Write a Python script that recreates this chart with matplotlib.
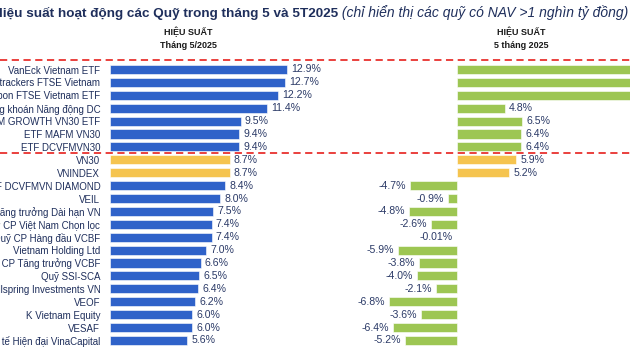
import matplotlib
matplotlib.use("Agg")
import matplotlib.pyplot as plt
import matplotlib.transforms as mtransforms
import numpy as np

plt.rcParams["font.family"] = ["Liberation Sans", "DejaVu Sans"]

# fund names (top to bottom)
funds = [
    "VanEck Vietnam ETF", "Xtrackers FTSE Vietnam", "Fubon FTSE Vietnam ETF",
    "Quỹ Đầu tư Chứng khoán Năng động DC", "KIM GROWTH VN30 ETF", "ETF MAFM VN30",
    "ETF DCVFMVN30", "VN30", "VNINDEX", "Quỹ ETF DCVFMVN DIAMOND", "VEIL",
    "Quỹ Đầu tư Tăng trưởng Dài hạn VN", "Quỹ Đầu tư CP Việt Nam Chọn lọc",
    "Quỹ CP Hàng đầu VCBF", "Vietnam Holding Ltd", "Quỹ CP Tăng trưởng VCBF",
    "Quỹ SSI-SCA", "Wellspring Investments VN", "VEOF", "K Vietnam Equity",
    "VESAF", "Quỹ Đầu tư Cổ phiếu Kinh tế Hiện đại VinaCapital",
]
# group: 0 = ETF ngoại, 1 = chỉ số, 2 = quỹ khác
groups = [0] * 7 + [1] * 2 + [2] * 13
perf_may = [12.9, 12.7, 12.2, 11.4, 9.5, 9.4, 9.4, 8.7, 8.7, 8.4, 8.0,
            7.5, 7.4, 7.4, 7.0, 6.6, 6.5, 6.4, 6.2, 6.0, 6.0, 5.6]
perf_5m = [19.0, 18.7, 18.4, 4.8, 6.5, 6.4, 6.4, 5.9, 5.2, -4.7, -0.9,
           -4.8, -2.6, -0.01, -5.9, -3.8, -4.0, -2.1, -6.8, -3.6, -6.4, -5.2]
fmt_5m = ["19.0%", "18.7%", "18.4%", "4.8%", "6.5%", "6.4%", "6.4%", "5.9%",
          "5.2%", "-4.7%", "-0.9%", "-4.8%", "-2.6%", "-0.01%", "-5.9%",
          "-3.8%", "-4.0%", "-2.1%", "-6.8%", "-3.6%", "-6.4%", "-5.2%"]

left_colors = ["#2F62C9", "#F5C44F", "#2F62C9"]
right_colors = ["#9DC653", "#F5C44F", "#9DC653"]
navy = "#1F2F5C"
val_color = "#2B3A67"

W, H = 630, 354
fig = plt.figure(figsize=(6.3, 3.54), dpi=100)

top_px = 59
ax_h = (H - top_px) / H
axl = fig.add_axes([110 / W, 0, 220 / W, ax_h])
axr = fig.add_axes([330 / W, 0, 300 / W, ax_h], sharey=axl)

y = np.arange(len(funds))
row0, step = 69.5, 12.9
y_top = (top_px - row0) / step
y_bot = (H - row0) / step

# left panel: May 2025
axl.barh(y, perf_may, height=0.7, color=[left_colors[g] for g in groups],
         edgecolor="white", linewidth=0.4)
axl.set_xlim(0, 220 / 13.75)
axl.set_ylim(y_bot, y_top)
for yi, v in zip(y, perf_may):
    axl.annotate(f"{v:.1f}%", (v, yi), xytext=(3, 0), textcoords="offset points",
                 va="center", ha="left", fontsize=7.6, color=val_color)
axl.set_yticks(y)
axl.set_yticklabels(funds, fontsize=7, color=navy)
axl.tick_params(axis="y", length=0, pad=7)
axl.tick_params(axis="x", bottom=False, labelbottom=False)

# right panel: 5 months 2025
axr.barh(y, perf_5m, height=0.7, color=[right_colors[g] for g in groups],
         edgecolor="white", linewidth=0.4)
axr.set_xlim(-127 / 10, (W - 457) / 10)
for yi, v, s in zip(y, perf_5m, fmt_5m):
    off = 3 if v >= 0 else -3
    axr.annotate(s, (v, yi), xytext=(off, 0), textcoords="offset points",
                 va="center", ha="left" if v >= 0 else "right",
                 fontsize=7.6, color=val_color, annotation_clip=True)
axr.tick_params(axis="y", left=False, labelleft=False)
axr.tick_params(axis="x", bottom=False, labelbottom=False)

for ax in (axl, axr):
    ax.patch.set_visible(False)
    for sp in ax.spines.values():
        sp.set_visible(False)

# red dashed separators across the whole figure
trans = mtransforms.blended_transform_factory(fig.transFigure, axl.transData)
for yy in (y_top + 0.05, 6.5):
    axr.plot([0, 1], [yy, yy], transform=trans, color="#E8322E", lw=1.3,
             ls=(0, (4, 2.5)), clip_on=False, zorder=5)

# title
t1 = fig.text(-7 / W, 1 - 13 / H, "Hiệu suất hoạt động các Quỹ trong tháng 5 và 5T2025",
              fontsize=9.7, fontweight="bold", color=navy, va="center", ha="left")
plt.annotate(" (chỉ hiển thị các quỹ có NAV >1 nghìn tỷ đồng)", xy=(1, 0.5),
             xycoords=t1, va="center", ha="left", fontsize=10,
             style="italic", color=navy)

# column headers
for xc, sub in ((188, "Tháng 5/2025"), (521, "5 tháng 2025")):
    fig.text(xc / W, 1 - 32 / H, "HIỆU SUẤT", fontsize=6.5, fontweight="bold",
             color="#1A1A1A", ha="center", va="center")
    fig.text(xc / W, 1 - 45 / H, sub, fontsize=6.5, fontweight="bold",
             color="#1A1A1A", ha="center", va="center")

fig.savefig("out.png", dpi=100)
